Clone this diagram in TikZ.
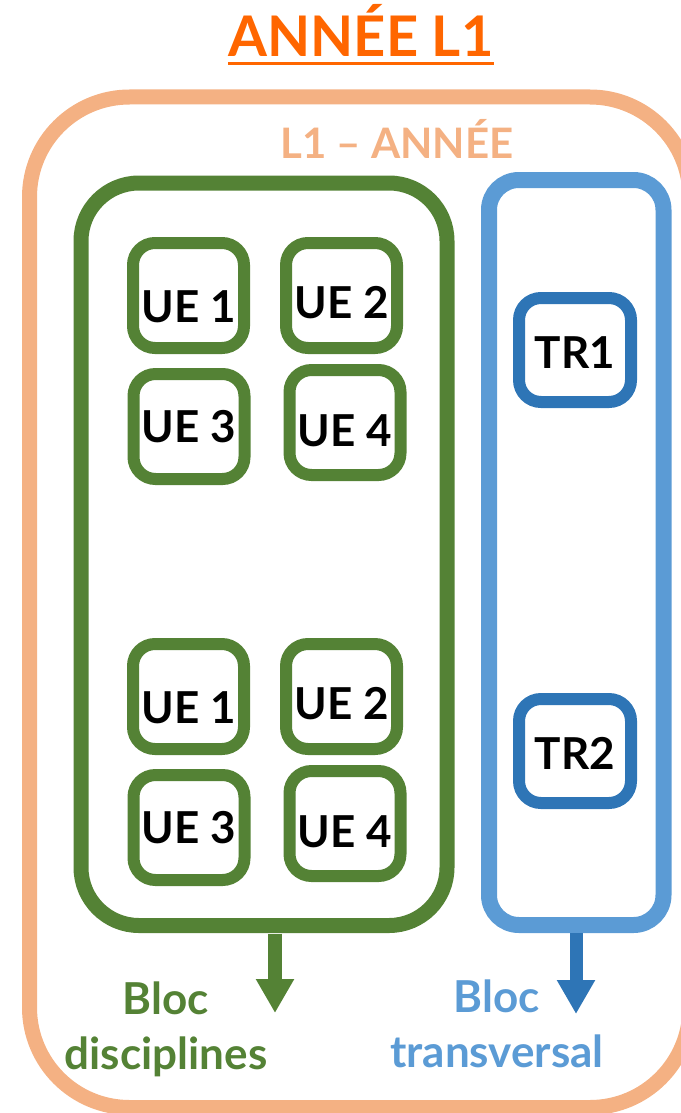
\documentclass[tikz,border=0pt]{standalone}
\usepackage{fontspec}
\setmainfont{Lato}
\usetikzlibrary{arrows.meta}
\definecolor{uegreen}{RGB}{84,130,53}
\definecolor{yearorange}{RGB}{244,177,131}
\definecolor{titleorange}{RGB}{255,102,0}
\definecolor{blocblue}{RGB}{91,155,213}
\definecolor{trblue}{RGB}{46,117,182}

\begin{document}
\begin{tikzpicture}[x=1pt, y=-1pt,
    smallbox/.style={draw, fill=white, rounded corners=22pt, line width=12pt,
        inner sep=0pt, outer sep=0pt, minimum width=111pt, minimum height=105pt,
        font=\bfseries\fontsize{44}{44}\selectfont, text depth=0pt},
    uebox/.style={smallbox, draw=uegreen, text height=#1},
    uebox/.default=31.5pt,
    trbox/.style={smallbox, draw=trblue, minimum width=112pt, minimum height=104pt, text height=#1},
    bigbox/.style={draw, line width=15pt, inner sep=0pt, outer sep=0pt},
    blocarrow/.style={line width=14pt, shorten <=8pt, -{Triangle[length=34pt, width=36pt]}},
    bloclabel/.style={align=center, font=\bfseries\fontsize{44}{55}\selectfont}]
    \useasboundingbox (0,0) rectangle (680,1113);

    % title
    \node[anchor=base, inner sep=0pt, text=titleorange,
        font=\bfseries\fontsize{56}{56}\selectfont] (title) at (361,57) {ANNÉE L1};
    \draw[titleorange, line width=3pt] ([yshift=-6.5pt]title.base west) -- ([yshift=-6.5pt]title.base east);

    % year frame
    \node[bigbox, draw=yearorange, rounded corners=100pt, minimum width=660.5pt,
        minimum height=1010.5pt] (year) at (359.75,602.25) {};
    \node[anchor=base, inner sep=0pt, text=yearorange,
        font=\bfseries\fontsize{42}{42}\selectfont] (yearlabel) at (397,158) {L1 – ANNÉE};

    % blocks
    \node[bigbox, draw=uegreen, rounded corners=58pt, minimum width=366pt,
        minimum height=742.5pt] (disc) at (264,554.25) {};
    \node[bigbox, draw=blocblue, line width=16pt, rounded corners=30pt, minimum width=174.5pt,
        minimum height=745pt] (transv) at (576.25,552.5) {};

    % UE boxes, two groups
    \foreach \g/\dy in {a/0,b/401} {
        \node[uebox=54.5pt] (ue1\g) at (188.5,295.5+\dy) {UE 1};
        \node[uebox=46.5pt] (ue2\g) at (341.5,295.5+\dy) {UE 2};
        \node[uebox] (ue3\g) at (189,426.5+\dy) {UE 3};
        \node[uebox=48.5pt] (ue4\g) at (345,422.5+\dy) {UE 4};
    }

    \node[trbox=36.5pt] (tr1) at (575,350) {TR1};
    \node[trbox=37.5pt] (tr2) at (575,751) {TR2};

    % arrows and labels
    \coordinate (disctip) at (275,1013);
    \coordinate (transvtip) at (576,1014);
    \draw[blocarrow, uegreen] (disc.south -| disctip) -- (disctip);
    \draw[blocarrow, trblue, line width=13pt] (transv.south -| transvtip) -- (transvtip);

    \node[bloclabel, text=uegreen] (disclabel) at (166,1029) {Bloc\\disciplines};
    \node[bloclabel, text=blocblue] (transvlabel) at (497,1024) {Bloc\\transversal};
\end{tikzpicture}
\end{document}
